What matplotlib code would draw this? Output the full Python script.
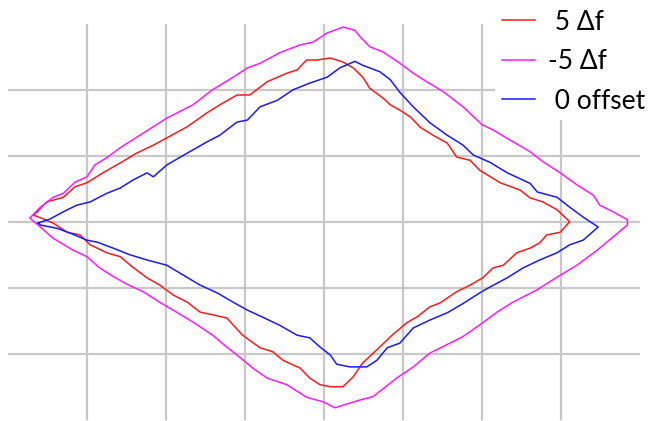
import matplotlib
matplotlib.use("Agg")
import matplotlib.pyplot as plt

# traces in grid units: x 0..8, y -3..3 (closed loops)
plus5_x = [0.37, 0.49, 0.70, 0.85, 1.00, 1.20, 1.42, 1.63, 1.84, 2.01, 2.27, 2.52, 2.68, 2.90, 3.06,
           3.28, 3.53, 3.66, 3.78, 3.91, 4.08, 4.24, 4.37, 4.49, 4.58, 4.75, 4.84, 4.96, 5.09, 5.22,
           5.38, 5.56, 5.68, 5.85, 5.97, 6.23, 6.48, 6.61, 6.77, 6.95, 7.11, 6.99, 6.82, 6.73, 6.61,
           6.44, 6.27, 6.14, 6.01, 5.85, 5.68, 5.47, 5.34, 5.18, 5.05, 4.87, 4.67, 4.49, 4.37, 4.24,
           4.08, 3.95, 3.82, 3.70, 3.48, 3.35, 3.19, 2.97, 2.77, 2.59, 2.43, 2.27, 2.09, 1.92, 1.76,
           1.58, 1.42, 1.25, 1.04, 0.91, 0.75, 0.57, 0.41, 0.32, 0.37]
plus5_y = [0.15, 0.30, 0.37, 0.53, 0.59, 0.74, 0.89, 1.04, 1.16, 1.27, 1.44, 1.65, 1.77, 1.92, 1.92,
           2.12, 2.25, 2.30, 2.45, 2.45, 2.48, 2.42, 2.33, 2.19, 2.02, 1.87, 1.77, 1.69, 1.59, 1.43,
           1.31, 1.19, 0.98, 0.93, 0.78, 0.59, 0.48, 0.36, 0.30, 0.18, 0.00, -0.16, -0.20, -0.32, -0.40,
           -0.47, -0.66, -0.70, -0.85, -0.96, -1.06, -1.23, -1.29, -1.44, -1.53, -1.71, -1.94, -2.14, -2.35, -2.50,
           -2.50, -2.47, -2.37, -2.22, -2.10, -1.97, -1.91, -1.72, -1.46, -1.41, -1.37, -1.22, -1.11, -0.96, -0.85,
           -0.69, -0.53, -0.47, -0.35, -0.20, -0.16, -0.02, 0.06, 0.10, 0.15]

minus5_x = [0.28, 0.41, 0.57, 0.70, 0.85, 1.00, 1.10, 1.25, 1.42, 1.63, 1.84, 2.01, 2.34, 2.59, 2.85,
            3.03, 3.19, 3.44, 3.70, 3.86, 4.04, 4.20, 4.24, 4.39, 4.46, 4.58, 4.75, 4.96, 5.13, 5.30,
            5.51, 5.76, 6.00, 6.14, 6.35, 6.61, 6.77, 6.99, 7.20, 7.41, 7.49, 7.66, 7.84, 7.84, 7.66,
            7.46, 7.20, 6.95, 6.70, 6.39, 6.19, 6.01, 5.76, 5.56, 5.34, 5.13, 4.92, 4.62, 4.46, 4.24,
            4.14, 3.99, 3.78, 3.53, 3.28, 3.10, 2.94, 2.77, 2.59, 2.34, 2.09, 1.92, 1.71, 1.51, 1.33,
            1.16, 1.00, 0.82, 0.57, 0.41, 0.30, 0.28]
minus5_y = [0.06, 0.22, 0.37, 0.43, 0.60, 0.68, 0.86, 0.97, 1.12, 1.28, 1.44, 1.57, 1.77, 2.00, 2.19,
            2.33, 2.40, 2.56, 2.68, 2.72, 2.86, 2.93, 2.95, 2.90, 2.80, 2.65, 2.57, 2.40, 2.25, 2.12,
            1.97, 1.74, 1.47, 1.39, 1.24, 1.06, 0.91, 0.74, 0.56, 0.40, 0.25, 0.15, 0.03, -0.05, -0.23,
            -0.43, -0.66, -0.84, -1.03, -1.22, -1.37, -1.53, -1.74, -1.86, -1.99, -2.20, -2.37, -2.65, -2.70, -2.78,
            -2.82, -2.73, -2.66, -2.47, -2.37, -2.22, -2.06, -1.90, -1.72, -1.52, -1.34, -1.22, -1.06, -0.95, -0.83,
            -0.70, -0.53, -0.43, -0.25, -0.08, 0.03, 0.06]

zero_x = [0.38, 0.53, 0.70, 0.87, 1.04, 1.25, 1.42, 1.58, 1.76, 1.84, 2.01, 2.27, 2.52, 2.68, 2.90,
          3.03, 3.19, 3.41, 3.61, 3.82, 4.04, 4.20, 4.39, 4.49, 4.71, 4.84, 4.96, 5.13, 5.34, 5.56,
          5.76, 5.89, 6.10, 6.32, 6.61, 6.70, 6.95, 7.11, 7.28, 7.47, 7.28, 7.11, 6.95, 6.73, 6.52,
          6.32, 6.10, 5.97, 5.76, 5.56, 5.34, 5.13, 4.96, 4.80, 4.67, 4.54, 4.33, 4.16, 4.08, 3.95,
          3.82, 3.66, 3.44, 3.23, 3.03, 2.85, 2.65, 2.43, 2.22, 2.01, 1.76, 1.54, 1.33, 1.13, 1.00,
          0.78, 0.62, 0.41, 0.38]
zero_y = [-0.02, 0.04, 0.15, 0.25, 0.30, 0.43, 0.51, 0.63, 0.74, 0.68, 0.86, 1.04, 1.21, 1.31, 1.51,
          1.54, 1.74, 1.84, 2.00, 2.10, 2.19, 2.33, 2.43, 2.37, 2.27, 2.15, 1.96, 1.74, 1.50, 1.31,
          1.16, 1.01, 0.90, 0.74, 0.58, 0.45, 0.37, 0.22, 0.07, -0.08, -0.28, -0.35, -0.47, -0.58, -0.70,
          -0.85, -0.99, -1.08, -1.24, -1.38, -1.49, -1.61, -1.84, -1.91, -2.10, -2.20, -2.20, -2.16, -2.02, -1.90,
          -1.76, -1.72, -1.57, -1.45, -1.34, -1.22, -1.08, -0.96, -0.81, -0.66, -0.58, -0.50, -0.40, -0.31, -0.28,
          -0.17, -0.10, -0.05, -0.02]

labels = [" 5 \u0394f", "-5 \u0394f", " 0 offset"]
colors = ["#ff1a1a", "#ff1aff", "#1a1aff"]

fig = plt.figure(figsize=(6.57, 4.21), dpi=100)
ax = fig.add_axes([8 / 657, 1.3 / 421, 632 / 657, 396 / 421])

ax.plot(plus5_x, plus5_y, color=colors[0], lw=1.1, label=labels[0], zorder=3)
ax.plot(minus5_x, minus5_y, color=colors[1], lw=1.1, label=labels[1], zorder=3)
ax.plot(zero_x, zero_y, color=colors[2], lw=1.1, label=labels[2], zorder=3)

ax.set_xlim(0, 8)
ax.set_ylim(-3, 3)
ax.set_xticks(range(1, 8))
ax.set_yticks(range(-2, 3))
ax.grid(True, color="#c8c8c8", lw=1.6)
ax.tick_params(length=0, labelbottom=False, labelleft=False)
for s in ax.spines.values():
    s.set_visible(False)

leg = ax.legend(loc="upper left", bbox_to_anchor=(495 / 657, 1 - 3 / 421), bbox_transform=fig.transFigure,
                prop={"family": ["Lato", "DejaVu Sans"], "size": 19}, frameon=True, fancybox=False,
                edgecolor="none", facecolor="white", framealpha=1, borderaxespad=0, borderpad=0.25,
                handlelength=1.25, handletextpad=0.5, labelspacing=0.55)
leg.set_zorder(5)

fig.savefig("out.png", dpi=100)
